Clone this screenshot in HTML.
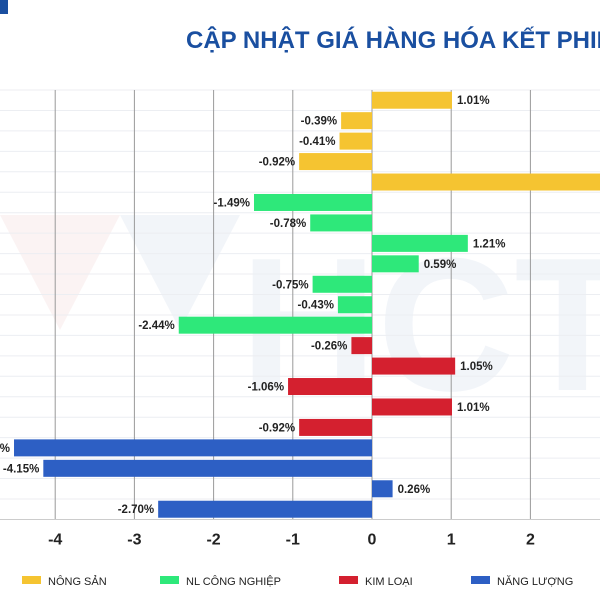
<!DOCTYPE html>
<html><head><meta charset="utf-8">
<style>
html,body{margin:0;padding:0;background:#fff;width:600px;height:600px;overflow:hidden;}
svg{display:block;font-family:"Liberation Sans","DejaVu Sans",sans-serif;}
</style></head>
<body>
<svg id="chart" width="600" height="600" viewBox="0 0 600 600">
  <rect x="0" y="0" width="8" height="14" fill="#1a4fa0"/>
  <text x="186" y="48" font-size="24" font-weight="bold" fill="#1a4fa0">CẬP NHẬT GIÁ HÀNG HÓA KẾT PHIÊN</text>
  <g id="watermark" opacity="0.05">
    <polygon points="0,215 120,215 60,330" fill="#c0282d"/>
    <polygon points="120,215 240,215 180,330" fill="#1a4fa0"/>
    <text x="240" y="390" font-size="190" font-weight="bold" fill="#1a4fa0">HCT</text>
  </g>
  <g id="grid"></g>
  <g id="bars"></g>
  <g id="ticks"></g>
  <g id="legend"></g>
</svg>
<script>
const categories = ["r1","r2","r3","r4","r5","r6","r7","r8","r9","r10","r11","r12","r13","r14","r15","r16","r17","r18","r19","r20","r21"];
const values = [1.01,-0.39,-0.41,-0.92,3.5,-1.49,-0.78,1.21,0.59,-0.75,-0.43,-2.44,-0.26,1.05,-1.06,1.01,-0.92,-4.52,-4.15,0.26,-2.70];
const groups = [0,0,0,0,0,1,1,1,1,1,1,1,2,2,2,2,2,3,3,3,3];
const groupNames = ["NÔNG SẢN","NL CÔNG NGHIỆP","KIM LOẠI","NĂNG LƯỢNG"];
const groupColors = ["#f5c431","#2ee87a","#d4202f","#2d5fc4"];
const tickValues = [-4,-3,-2,-1,0,1,2];

const NS="http://www.w3.org/2000/svg";
const X0=372, UNIT=79.2, TOPY=90, PITCH=20.45, BARH=17;
const xs=v=>X0+v*UNIT;
const ys=i=>TOPY+i*PITCH;
function mk(tag,attrs,parent){const e=document.createElementNS(NS,tag);for(const k in attrs)e.setAttribute(k,attrs[k]);parent.appendChild(e);return e;}
const gridG=document.getElementById('grid'),barsG=document.getElementById('bars'),ticksG=document.getElementById('ticks'),legendG=document.getElementById('legend');
const BOTTOM=ys(categories.length);
for(let i=0;i<=categories.length;i++){
  const l=mk('line',{x1:0,x2:600,y1:ys(i),y2:ys(i),stroke:'#eceef2','stroke-width':1},gridG);
  
  
}
tickValues.forEach(t=>{
  const l=mk('line',{x1:xs(t),x2:xs(t),y1:TOPY,y2:BOTTOM,stroke:'#9a9a9a','stroke-width':1},gridG);
  
  
  const tx=mk('text',{x:xs(t),y:BOTTOM+25,'font-size':16,'font-weight':'bold','text-anchor':'middle',fill:'#222'},ticksG);
  tx.textContent=t;
  
  
});
const ax=mk('line',{x1:0,x2:600,y1:BOTTOM,y2:BOTTOM,stroke:'#ccc','stroke-width':1},gridG);


values.forEach((v,i)=>{
  const yc=ys(i)+PITCH/2;
  const x=Math.min(xs(0),xs(v)),w=Math.abs(xs(v)-xs(0));
  const r=mk('rect',{x:x,y:yc-BARH/2,width:w,height:BARH,fill:groupColors[groups[i]]},barsG);
  
  
  const lbl=mk('text',{x:v>=0?xs(v)+5:xs(v)-4,y:yc+4,'font-size':11.5,'font-weight':'bold','text-anchor':v>=0?'start':'end',fill:'#222'},barsG);
  lbl.textContent=v.toFixed(2)+'%';
  
  
});
const lx=[22,160,339,471];
groupNames.forEach((n,i)=>{
  const g=mk('g',{},legendG);
  
  
  mk('rect',{x:lx[i],y:576,width:19,height:8,fill:groupColors[i]},g);
  const t=mk('text',{x:lx[i]+26,y:585,'font-size':11,fill:'#222'},g);
  t.textContent=n;
});
</script>
</body></html>
